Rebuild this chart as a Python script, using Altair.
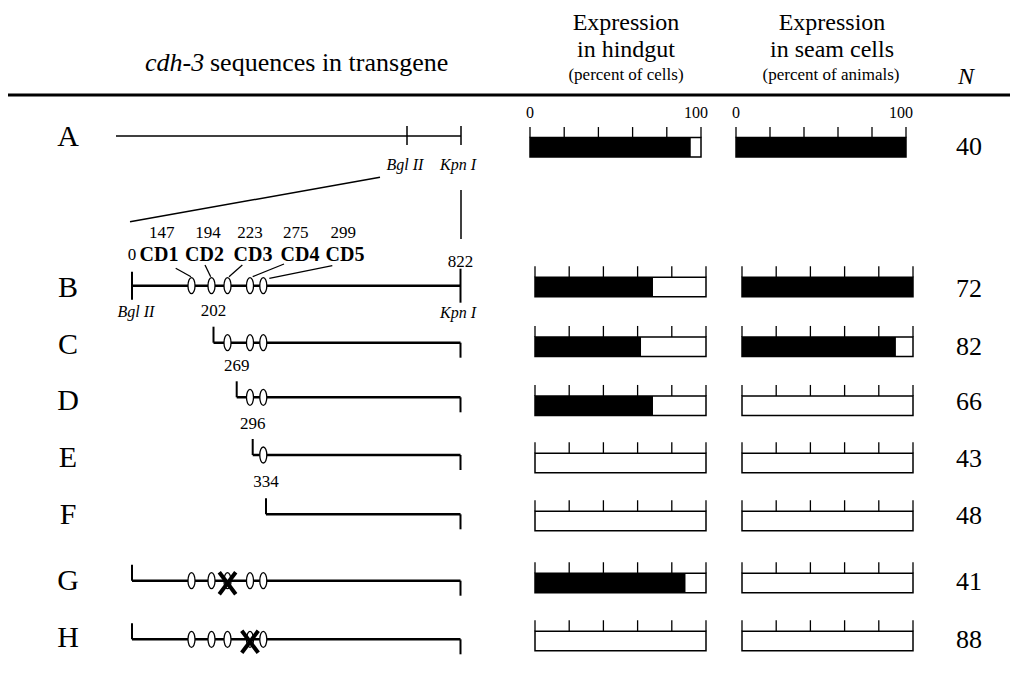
import altair as alt
import pandas as pd

# ---------------- data ----------------
rows = ["A", "B", "C", "D", "E", "F", "G", "H"]
hindgut_pct = [94, 69, 62, 69, 0, 0, 88, 0]
seam_pct = [100, 100, 90, 0, 0, 0, 0, 0]
n_scored = [40, 72, 82, 66, 43, 48, 41, 88]
construct_start = [None, 0, 202, 269, 296, 334, 0, 0]   # bp, rows B..H
construct_end = 822
cd_names = ["CD1", "CD2", "CD3", "CD4", "CD5"]
cd_bp = [147, 194, 223, 275, 299]
mutated_cd = {"G": 223, "H": 275}
bar_ticks = [0, 20, 40, 60, 80, 100]

# ---------------- layout (image pixels) ----------------
W, H, M = 1002, 666, 8
FONT = "Liberation Serif"

def px(v):
    return v - M

# schematic (not to scale) mapping of bp -> x
schem_bp = [0, 147, 194, 202, 223, 269, 275, 296, 299, 334, 822]
schem_px = [132, 191.5, 211.5, 213.5, 227.5, 236.7, 250, 252.7, 263.3, 266, 460.5]

row_text_y = {"A": 137, "B": 288, "C": 345, "D": 401, "E": 458, "F": 515, "G": 581, "H": 638}
n_y = {"A": 147, "B": 289, "C": 347, "D": 402, "E": 459, "F": 516, "G": 582, "H": 640}
bar_y = {"A": 147.3, "B": 287, "C": 346.7, "D": 405.7, "E": 463, "F": 521, "G": 583, "H": 641}
line_y = {"B": 285.7, "C": 342.7, "D": 397.3, "E": 455, "F": 514.3, "G": 580.7, "H": 639.3}
start_label_y = {"B": 255, "C": 311, "D": 366, "E": 424, "F": 482}

yscale = alt.Scale(domain=[M, M + H], range=[0, H], zero=False, nice=False)
fxscale = alt.Scale(domain=[M, M + W], range=[0, W], zero=False, nice=False)


def Y(f):
    return alt.Y(f"{f}:Q", scale=yscale, axis=None)


def FX(f):
    return alt.X(f"{f}:Q", scale=fxscale, axis=None)


# ---------------- frame: rules ----------------
segs = pd.DataFrame([
    dict(x1=8, y1=95, x2=1010, y2=95, sw=3),
    dict(x1=116, y1=136, x2=461, y2=136, sw=1.5),
    dict(x1=407, y1=126, x2=407, y2=145, sw=1.5),
    dict(x1=461, y1=126, x2=461, y2=145, sw=1.5),
    dict(x1=130, y1=221.7, x2=380, y2=177.3, sw=1.5),
    dict(x1=461, y1=190, x2=461, y2=239, sw=1.5),
    dict(x1=175.7, y1=268.3, x2=191, y2=276.7, sw=1.3),
    dict(x1=205, y1=265, x2=210.7, y2=276.7, sw=1.3),
    dict(x1=242.3, y1=265, x2=229, y2=276.7, sw=1.3),
    dict(x1=284, y1=264, x2=252.7, y2=276.7, sw=1.3),
    dict(x1=332.3, y1=265.7, x2=269.3, y2=278.3, sw=1.3),
])
frame_rules = alt.Chart(segs).mark_rule(color="black").encode(
    x=FX("x1"), y=Y("y1"), x2="x2:Q", y2="y2:Q",
    strokeWidth=alt.StrokeWidth("sw:Q", scale=None),
)


def text_layer(records, **kw):
    df = pd.DataFrame(records, columns=["text", "x", "y", "fs"])
    return alt.Chart(df).mark_text(font=FONT, color="black", baseline="middle", **kw).encode(
        x=FX("x"), y=Y("y"), text="text:N",
        size=alt.Size("fs:Q", scale=None, legend=None),
    )


reg_center = [
    ("Expression", 626, 23, 24), ("in hindgut", 626, 50, 24), ("(percent of cells)", 626, 75, 17),
    ("Expression", 832, 23, 24), ("in seam cells", 832, 50, 24), ("(percent of animals)", 831, 75, 17),
]
reg_center += [(str(b), xx, 233, 17) for b, xx in zip(cd_bp, [161.7, 208, 250, 295.7, 343.3])]
reg_center += [(r, 68, row_text_y[r], 30) for r in rows]
reg_center += [(str(n), 969, n_y[r], 26) for r, n in zip(rows, n_scored)]

ital_center = [
    ("N", 966, 77, 24),
    ("Bgl II", 405, 165, 16), ("Kpn I", 458, 165, 16),
    ("Bgl II", 136, 312, 16), ("Kpn I", 458, 313, 16),
]
bold_center = [(nm, xx, 255, 20) for nm, xx in zip(cd_names, [159, 204.5, 253, 300, 345])]

t_reg = text_layer(reg_center, align="center")
t_ital = text_layer(ital_center, align="center", fontStyle="italic")
t_bold = text_layer(bold_center, align="center", fontWeight="bold")
t_head_i = text_layer([("cdh-3", 145, 63, 26)], align="left", fontStyle="italic")
t_head_r = text_layer([("sequences in transgene", 210, 63, 26)], align="left")

# ---------------- constructs (bp on schematic scale) ----------------
cscale = alt.Scale(domain=schem_bp, range=[px(v) for v in schem_px], zero=False, nice=False)


def CX(f):
    return alt.X(f"{f}:Q", scale=cscale, axis=None)


cons, ovals, crosses, slabels = [], [], [], []
for r, s in zip(rows, construct_start):
    if s is None:
        continue
    ly = line_y[r]
    isB = r == "B"
    cons.append(dict(row=r, start=s, end=construct_end, y=ly,
                     sv1=ly - 14 if isB else ly - 16, sv2=ly + 14 if isB else ly,
                     ev1=ly - 17 if isB else ly, ev2=ly + 17 if isB else ly + 15))
    for nm, b in zip(cd_names, cd_bp):
        if b > s:
            ovals.append(dict(row=r, bp=b, y=ly))
    if r in mutated_cd:
        crosses.append(dict(row=r, bp=mutated_cd[r], y=ly + 2.5))
    if r in start_label_y:
        slabels.append(dict(text=str(s), bp=s, y=start_label_y[r]))
slabels.append(dict(text=str(construct_end), bp=construct_end, y=262))

cons_df = pd.DataFrame(cons)
c_line = alt.Chart(cons_df).mark_rule(color="black", strokeWidth=2.6).encode(
    x=CX("start"), x2="end:Q", y=Y("y"))
c_sv = alt.Chart(cons_df).mark_rule(color="black", strokeWidth=2).encode(
    x=CX("start"), y=Y("sv1"), y2="sv2:Q")
c_ev = alt.Chart(cons_df).mark_rule(color="black", strokeWidth=2).encode(
    x=CX("end"), y=Y("ev1"), y2="ev2:Q")

OVAL = ("M0,-1 C0.243,-1 0.44,-0.552 0.44,0 C0.44,0.552 0.243,1 0,1 "
        "C-0.243,1 -0.44,0.552 -0.44,0 C-0.44,-0.552 -0.243,-1 0,-1 Z")
XPATH = "M-0.75,-1 L0.75,1 M0.75,-1 L-0.75,1"

c_oval = alt.Chart(pd.DataFrame(ovals)).mark_point(
    shape=OVAL, size=256, filled=True, fill="white", stroke="black",
    strokeWidth=1.3, opacity=1).encode(x=CX("bp"), y=Y("y"))
c_x = alt.Chart(pd.DataFrame(crosses)).mark_point(
    shape=XPATH, size=484, filled=False, color="black", strokeWidth=4,
    opacity=1).encode(x=CX("bp"), y=Y("y"))
c_lab = alt.Chart(pd.DataFrame(slabels)).mark_text(
    font=FONT, fontSize=17, color="black", baseline="middle", align="center").encode(
    x=CX("bp"), y=Y("y"), text="text:N")

constructs = alt.layer(c_line, c_sv, c_ev, c_oval, c_x, c_lab)

# ---------------- expression bars ----------------


def bar_panel(sel_rows, values, rng, half=9.75, tick_len=11, labels_y=None):
    xs = alt.Scale(domain=[0, 100], range=[px(rng[0]), px(rng[1])], zero=False, nice=False)
    recs, ticks = [], []
    for r, v in zip(rows, values):
        if r not in sel_rows:
            continue
        c = bar_y[r]
        recs.append(dict(row=r, zero=0, full=100, pct=v, top=c - half, bot=c + half))
        for t in bar_ticks:
            ticks.append(dict(row=r, t=t, t1=c - half - tick_len, t2=c - half))
    df = pd.DataFrame(recs)
    X = alt.X("zero:Q", scale=xs, axis=None)
    black = alt.Chart(df).mark_rect(color="black").encode(x=X, x2="pct:Q", y=Y("top"), y2="bot:Q")
    outline = alt.Chart(df).mark_rect(filled=False, color="black", strokeWidth=1.5).encode(
        x=X, x2="full:Q", y=Y("top"), y2="bot:Q")
    tk = alt.Chart(pd.DataFrame(ticks)).mark_rule(color="black", strokeWidth=1.3).encode(
        x=alt.X("t:Q", scale=xs, axis=None), y=Y("t1"), y2="t2:Q")
    layers = [black, outline, tk]
    if labels_y is not None:
        ldf = pd.DataFrame([dict(t=bar_ticks[0], y=labels_y, text=str(bar_ticks[0]))])
        hdf = pd.DataFrame([dict(t=bar_ticks[-1], y=labels_y, text=str(bar_ticks[-1]))])
        layers.append(alt.Chart(ldf).mark_text(font=FONT, fontSize=16, baseline="middle").encode(
            x=alt.X("t:Q", scale=xs, axis=None), y=Y("y"), text="text:N"))
        layers.append(alt.Chart(hdf).mark_text(font=FONT, fontSize=16, baseline="middle", dx=-5).encode(
            x=alt.X("t:Q", scale=xs, axis=None), y=Y("y"), text="text:N"))
    return alt.layer(*layers)


rest = rows[1:]
hind_A = bar_panel(["A"], hindgut_pct, (530, 701), half=9.75, tick_len=10.5, labels_y=113)
seam_A = bar_panel(["A"], seam_pct, (736, 906), half=9.75, tick_len=10.5, labels_y=113)
hind_R = bar_panel(rest, hindgut_pct, (535, 706))
seam_R = bar_panel(rest, seam_pct, (742, 913))

chart = alt.layer(
    frame_rules, t_reg, t_ital, t_bold, t_head_i, t_head_r,
    constructs, hind_A, seam_A, hind_R, seam_R,
).resolve_scale(x="independent").properties(
    width=W, height=H, padding=0, autosize="none", background="white"
).configure_view(stroke=None)

chart.save("out.html", embed_options={"renderer": "svg", "actions": False})
